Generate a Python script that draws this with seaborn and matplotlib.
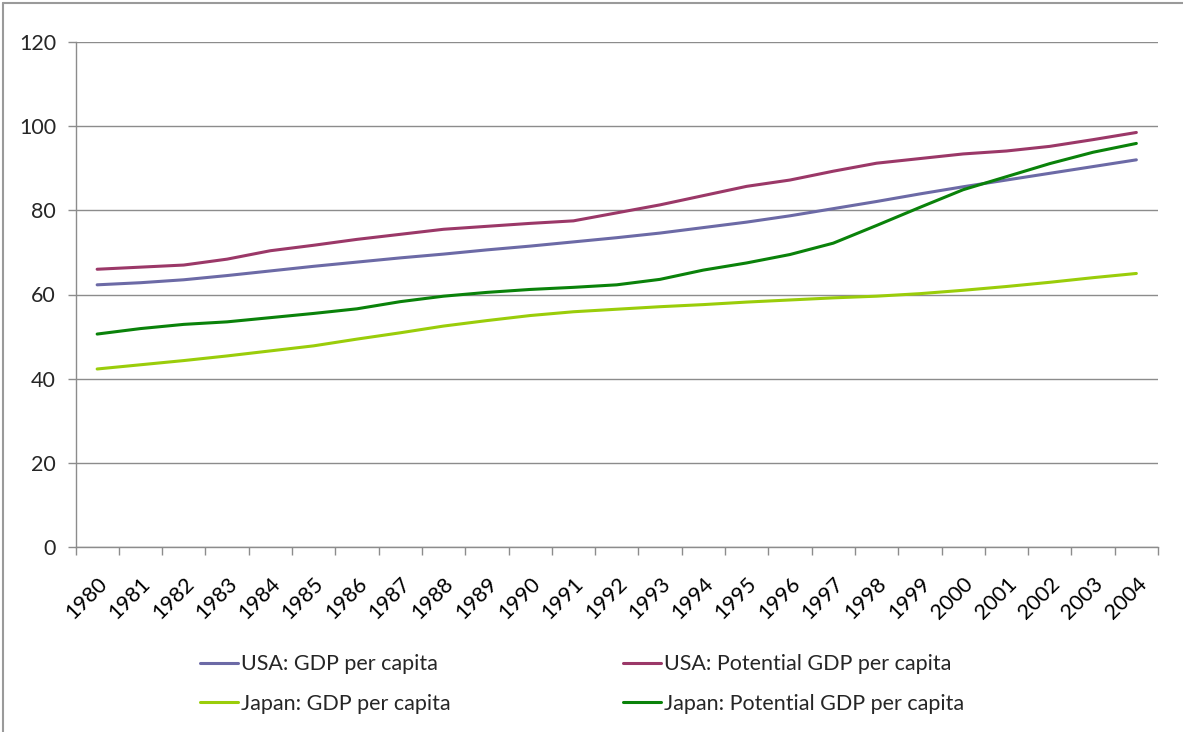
import numpy as np
import pandas as pd
import matplotlib
matplotlib.use("Agg")
import matplotlib.pyplot as plt
from matplotlib.lines import Line2D
from matplotlib.transforms import ScaledTranslation
import seaborn as sns

years = [str(y) for y in range(1980, 2005)]

usa_gdp = [62.3, 62.8, 63.5, 64.5, 65.6, 66.7, 67.7, 68.7, 69.6, 70.6,
           71.5, 72.5, 73.5, 74.6, 75.9, 77.2, 78.7, 80.4, 82.1, 83.9,
           85.6, 87.2, 88.8, 90.4, 92.0]
usa_potential = [66.0, 66.5, 67.0, 68.4, 70.4, 71.7, 73.1, 74.3, 75.5, 76.2,
                 76.9, 77.5, 79.4, 81.3, 83.5, 85.7, 87.2, 89.3, 91.2, 92.3,
                 93.4, 94.1, 95.2, 96.8, 98.5]
japan_gdp = [42.3, 43.3, 44.3, 45.4, 46.6, 47.8, 49.4, 50.9, 52.5, 53.8,
             55.0, 55.9, 56.5, 57.1, 57.6, 58.2, 58.7, 59.2, 59.6, 60.2,
             61.0, 61.9, 62.9, 64.0, 65.0]
japan_potential = [50.6, 51.9, 52.9, 53.5, 54.5, 55.5, 56.6, 58.3, 59.6, 60.5,
                   61.2, 61.7, 62.3, 63.6, 65.8, 67.5, 69.5, 72.2, 76.4, 80.7,
                   84.9, 88.0, 91.1, 93.8, 95.9]

series_names = ["USA: GDP per capita", "USA: Potential GDP per capita",
                "Japan: GDP per capita", "Japan: Potential GDP per capita"]
series_values = [usa_gdp, usa_potential, japan_gdp, japan_potential]
series_colors = ["#6C6AA6", "#9B3868", "#9ACD0A", "#0A820A"]

frames = []
for name, vals in zip(series_names, series_values):
    frames.append(pd.DataFrame({"pos": np.arange(len(years)), "value": vals,
                                "series": name}))
df = pd.concat(frames, ignore_index=True)

sns.set_style("white")
plt.rcParams["font.family"] = ["Lato", "DejaVu Sans"]

fig = plt.figure(figsize=(11.83, 7.32), dpi=100)
ax = fig.add_axes([75.5 / 1183, 1 - 547 / 732, (1158 - 75.5) / 1183, (547 - 42) / 732])

palette = dict(zip(series_names, series_colors))
sns.lineplot(data=df, x="pos", y="value", hue="series", palette=palette,
             hue_order=series_names, linewidth=2.2, ax=ax, legend=False,
             estimator=None, sort=False)

grid_c = "#8C8C8C"
fs = 15.5
ax.set_xlim(-0.5, len(years) - 0.5)
ax.set_ylim(0, 120)
ax.set_yticks(np.arange(0, 121, 20))
ax.yaxis.grid(True, color=grid_c, linewidth=1.0)
ax.xaxis.grid(False)
ax.set_axisbelow(True)
for side in ["top", "right"]:
    ax.spines[side].set_visible(False)
for side in ["left", "bottom"]:
    ax.spines[side].set_color(grid_c)
    ax.spines[side].set_linewidth(1.0)

ax.set_xticks(np.arange(len(years)))
ax.set_xticklabels(years, rotation=45, ha="right", rotation_mode="anchor",
                   fontsize=fs, color="#000000")
shift = ScaledTranslation(-7 / 100, 0, fig.dpi_scale_trans)
for lbl in ax.get_xticklabels():
    lbl.set_transform(lbl.get_transform() + shift)
ax.set_xticks(np.arange(-0.5, len(years)), minor=True)
ax.tick_params(axis="x", which="major", length=0, pad=19)
ax.tick_params(axis="x", which="minor", length=6, color=grid_c, width=1.0,
               direction="out", bottom=True)
ax.tick_params(axis="y", length=6, color=grid_c, width=1.0, direction="out",
               labelsize=fs, pad=8, left=True)
ax.set_xlabel("")
ax.set_ylabel("")

# two legend columns, each listing one USA and one Japan series
legend_cols = [(200, [0, 2]), (623, [1, 3])]
for x_px, idx in legend_cols:
    handles = [Line2D([0], [0], color=series_colors[i], linewidth=2.2) for i in idx]
    labels = [series_names[i] for i in idx]
    fig.legend(handles, labels, loc="center left", frameon=False,
               bbox_to_anchor=(x_px / 1183, 1 - 684 / 732),
               fontsize=fs, handlelength=1.75, handletextpad=0.15,
               labelspacing=0.9, borderpad=0, borderaxespad=0)

# outer chart frame (left and top edges)
fig.add_artist(Line2D([2.5 / 1183, 2.5 / 1183], [0, 1 - 2.5 / 732],
                      transform=fig.transFigure, color="#9A9A9A", linewidth=1.5))
fig.add_artist(Line2D([2.5 / 1183, 1], [1 - 2.5 / 732, 1 - 2.5 / 732],
                      transform=fig.transFigure, color="#9A9A9A", linewidth=1.5))

fig.savefig("out.png", dpi=100, facecolor="white")
